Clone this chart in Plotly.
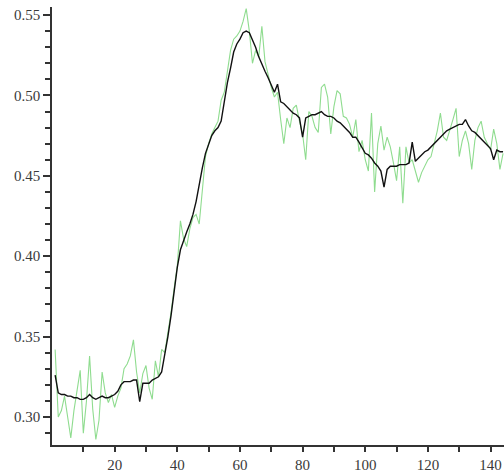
import plotly.graph_objects as go

x_vals = list(range(1, 145))
x_tick_vals = [20, 40, 60, 80, 100, 120, 140]
x_minor_vals = [10, 30, 50, 70, 90, 110, 130]

green_vals = [
    0.342, 0.300, 0.304, 0.313, 0.300, 0.287, 0.304, 0.318, 0.329, 0.290,
    0.310, 0.338, 0.305, 0.286, 0.298, 0.328, 0.315, 0.309, 0.314, 0.306,
    0.313, 0.318, 0.330, 0.333, 0.338, 0.348, 0.328, 0.315, 0.327, 0.332,
    0.318, 0.311, 0.335, 0.325, 0.342, 0.340, 0.352, 0.365, 0.380, 0.394,
    0.422, 0.411, 0.406, 0.417, 0.424, 0.426, 0.420, 0.440, 0.462, 0.470,
    0.476, 0.480, 0.484, 0.497, 0.502, 0.515, 0.528, 0.535, 0.537, 0.540,
    0.546, 0.554, 0.540, 0.520, 0.528, 0.524, 0.543, 0.521, 0.513, 0.505,
    0.499, 0.502, 0.485, 0.470, 0.486, 0.480, 0.492, 0.494, 0.484, 0.476,
    0.460, 0.490, 0.487, 0.480, 0.477, 0.505, 0.507, 0.499, 0.476, 0.493,
    0.503, 0.501, 0.487, 0.486, 0.482, 0.474, 0.485, 0.465, 0.472, 0.460,
    0.453, 0.489, 0.440, 0.470, 0.481, 0.466, 0.474, 0.468, 0.458, 0.447,
    0.468, 0.433, 0.468, 0.458, 0.460, 0.453, 0.446, 0.452, 0.456, 0.460,
    0.462, 0.470, 0.478, 0.489, 0.474, 0.472, 0.478, 0.485, 0.492, 0.462,
    0.472, 0.478, 0.470, 0.454, 0.472, 0.480, 0.484, 0.474, 0.470, 0.466,
    0.479, 0.470, 0.454, 0.464,
]

black_vals = [
    0.326, 0.315, 0.314, 0.314, 0.313, 0.313, 0.312, 0.312, 0.311, 0.311,
    0.312, 0.314, 0.312, 0.311, 0.312, 0.313, 0.312, 0.312, 0.313, 0.314,
    0.316, 0.320, 0.322, 0.322, 0.322, 0.323, 0.323, 0.3095, 0.321, 0.321,
    0.321, 0.323, 0.324, 0.325, 0.328, 0.338, 0.350, 0.363, 0.378, 0.393,
    0.404, 0.410, 0.415, 0.420, 0.426, 0.434, 0.445, 0.455, 0.464, 0.470,
    0.475, 0.478, 0.480, 0.484, 0.496, 0.508, 0.517, 0.527, 0.532, 0.535,
    0.539, 0.540, 0.539, 0.535, 0.530, 0.524, 0.519, 0.515, 0.511, 0.506,
    0.502, 0.507, 0.496, 0.495, 0.493, 0.491, 0.489, 0.488, 0.486, 0.474,
    0.486, 0.487, 0.488, 0.488, 0.489, 0.490, 0.488, 0.487, 0.487, 0.486,
    0.484, 0.483, 0.481, 0.479, 0.477, 0.474, 0.474, 0.471, 0.467, 0.464,
    0.463, 0.461, 0.458, 0.456, 0.453, 0.443, 0.454, 0.456, 0.456, 0.456,
    0.457, 0.457, 0.457, 0.458, 0.471, 0.459, 0.461, 0.463, 0.465, 0.466,
    0.468, 0.470, 0.472, 0.474, 0.476, 0.478, 0.479, 0.480, 0.481, 0.482,
    0.482, 0.485, 0.481, 0.478, 0.477, 0.475, 0.473, 0.471, 0.469, 0.467,
    0.460, 0.466, 0.465, 0.465,
]

fig = go.Figure()
fig.add_trace(go.Scatter(x=x_vals, y=green_vals, mode="lines",
                         line=dict(color="#8fdc8f", width=1.1), showlegend=False))
fig.add_trace(go.Scatter(x=x_vals, y=black_vals, mode="lines",
                         line=dict(color="#111111", width=1.4), showlegend=False))

font = dict(family="Liberation Serif, Times New Roman, serif", size=15, color="#3a3a3a")

fig.update_layout(
    width=504, height=474,
    margin=dict(l=52, r=0, t=7, b=29),
    paper_bgcolor="white", plot_bgcolor="white",
    font=font,
    xaxis=dict(range=[0, 144.3], showgrid=False, zeroline=False,
               showline=True, linecolor="#333333", linewidth=1.5,
               ticks="outside", ticklen=5, tickwidth=1.5, tickcolor="#333333",
               tickmode="array", tickvals=x_tick_vals, tickfont=font,
               minor=dict(tickmode="array", tickvals=x_minor_vals, ticks="outside",
                          ticklen=5, tickwidth=1.5, tickcolor="#333333",
                          showgrid=False)),
    yaxis=dict(range=[0.2826, 0.555], showgrid=False, zeroline=False,
               showline=True, linecolor="#333333", linewidth=1.5,
               ticks="outside", ticklen=7, tickwidth=1.5, tickcolor="#333333",
               tick0=0.30, dtick=0.05, tickformat=".2f", tickfont=font,
               minor=dict(dtick=0.01, ticks="outside", ticklen=5, tickwidth=1.5,
                          tickcolor="#333333", showgrid=False)),
)

fig.write_html("out.html")
